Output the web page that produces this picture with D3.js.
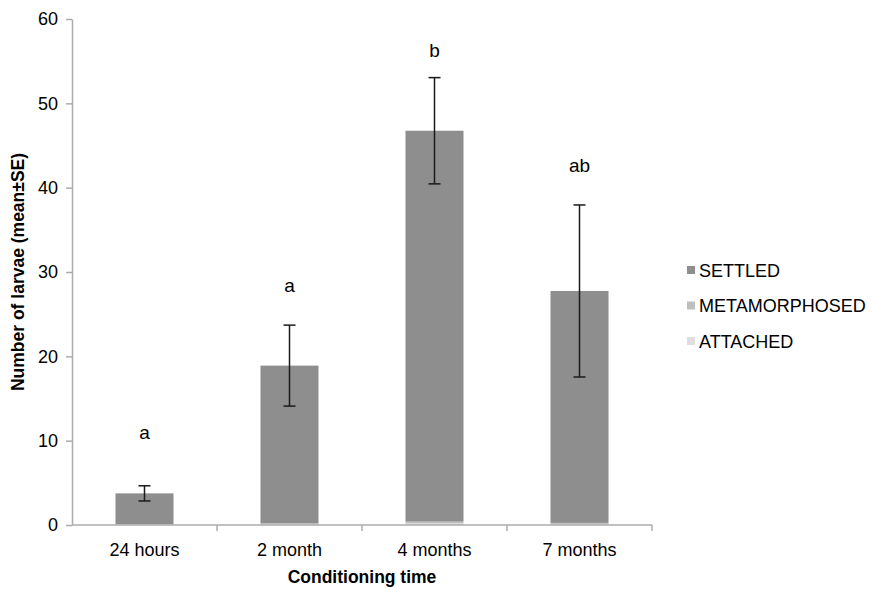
<!DOCTYPE html>
<html>
<head>
<meta charset="utf-8">
<script src="https://cdn.jsdelivr.net/npm/d3@7"></script>
<style>
  body { margin: 0; background: #fff; }
  svg { font-family: "Liberation Sans", Arial, sans-serif; }
</style>
</head>
<body>
<svg id="chart" width="872" height="589"></svg>
<script>
// Conditioning time groups
const categories = ["24 hours", "2 month", "4 months", "7 months"];
// Larvae counts per response type (stacked bottom to top)
const attached = [0.05, 0.1, 0.2, 0.1];
const metamorphosed = [0.05, 0.1, 0.2, 0.15];
const settled = [3.65, 18.7, 46.35, 27.5];
// Standard error on the total count
const se = [0.9, 4.8, 6.3, 10.2];
// Significance letters and the height (in larvae) where each sits
const letters = ["a", "a", "b", "ab"];
const letterY = [10.2, 27.6, 55.5, 41.9];
const yTicks = [0, 10, 20, 30, 40, 50, 60];
const seriesNames = ["SETTLED", "METAMORPHOSED", "ATTACHED"];
const seriesColors = { SETTLED: "#8e8e8e", METAMORPHOSED: "#bfbfbf", ATTACHED: "#dedede" };

const svg = d3.select("#chart");
const margin = { left: 72, right: 220, top: 19, bottom: 64 };
const W = 872, H = 589;
const FS = 18;

const rows = categories.map((c, i) => ({
  cat: c, ATTACHED: attached[i], METAMORPHOSED: metamorphosed[i], SETTLED: settled[i],
  se: se[i], letter: letters[i], ly: letterY[i]
}));

const x = d3.scaleBand().domain(categories)
  .range([margin.left, W - margin.right]).paddingInner(0.6).paddingOuter(0.3);
const xb = d3.scaleBand().domain(categories)
  .range([margin.left, W - margin.right]);
const y = d3.scaleLinear().domain([0, 60]).range([H - margin.bottom, margin.top]);

const stack = d3.stack().keys(["ATTACHED", "METAMORPHOSED", "SETTLED"]);
const layers = stack(rows);

// Bars
svg.append("g").selectAll("g").data(layers).join("g")
  .attr("fill", d => seriesColors[d.key])
  .selectAll("rect").data(d => d).join("rect")
  .attr("x", d => x(d.data.cat))
  .attr("width", x.bandwidth())
  .attr("y", d => y(d[1]))
  .attr("height", d => Math.max(0, y(d[0]) - y(d[1])));

// Axes
const axisColor = "#ababab";
const yAxis = svg.append("g").attr("transform", `translate(${margin.left},0)`)
  .call(d3.axisLeft(y).tickValues(yTicks).tickSize(6).tickPadding(8).tickSizeOuter(0));
yAxis.select(".domain").attr("stroke", axisColor).attr("stroke-width", 1.5);
yAxis.selectAll(".tick line").attr("stroke", axisColor).attr("stroke-width", 1.5);
yAxis.selectAll("text").attr("font-size", FS).attr("fill", "#000")
  .attr("font-family", "Liberation Sans, Arial, sans-serif");

const xAxisG = svg.append("g").attr("transform", `translate(0,${y(0)})`);
xAxisG.append("line").attr("x1", margin.left).attr("x2", W - margin.right)
  .attr("stroke", axisColor).attr("stroke-width", 1.5);
const bounds = categories.map(c => xb(c)).concat([xb(categories[categories.length - 1]) + xb.bandwidth()]);
xAxisG.selectAll("line.tk").data(bounds.slice(1)).join("line").attr("class", "tk")
  .attr("x1", d => d).attr("x2", d => d).attr("y1", 0).attr("y2", 6)
  .attr("stroke", axisColor).attr("stroke-width", 1.5);
xAxisG.selectAll("text").data(categories).join("text")
  .attr("x", d => xb(d) + xb.bandwidth() / 2).attr("y", 31)
  .attr("text-anchor", "middle").attr("font-size", FS).text(d => d);

// Error bars on stack totals
const eb = svg.append("g").attr("stroke", "#1a1a1a").attr("stroke-width", 1.5);
rows.forEach(r => {
  const total = r.ATTACHED + r.METAMORPHOSED + r.SETTLED;
  const cx = x(r.cat) + x.bandwidth() / 2;
  eb.append("line").attr("x1", cx).attr("x2", cx).attr("y1", y(total + r.se)).attr("y2", y(total - r.se));
  eb.append("line").attr("x1", cx - 6).attr("x2", cx + 6).attr("y1", y(total + r.se)).attr("y2", y(total + r.se));
  eb.append("line").attr("x1", cx - 6).attr("x2", cx + 6).attr("y1", y(total - r.se)).attr("y2", y(total - r.se));
});

// Significance letters
svg.append("g").selectAll("text").data(rows).join("text")
  .attr("x", d => x(d.cat) + x.bandwidth() / 2)
  .attr("y", d => y(d.ly))
  .attr("text-anchor", "middle").attr("font-size", FS + 1).text(d => d.letter);

// Axis titles
svg.append("text").attr("x", (margin.left + W - margin.right) / 2).attr("y", 583)
  .attr("text-anchor", "middle").attr("font-size", 17.5).attr("font-weight", "bold")
  .text("Conditioning time");
svg.append("text")
  .attr("transform", `translate(24,${(margin.top + H - margin.bottom) / 2}) rotate(-90)`)
  .attr("text-anchor", "middle").attr("font-size", 17.5).attr("font-weight", "bold")
  .text("Number of larvae (mean±SE)");

// Legend
const lg = svg.append("g").attr("transform", "translate(687,270)");
seriesNames.forEach((n, i) => {
  const g = lg.append("g").attr("transform", `translate(0,${i * 35.5})`);
  g.append("rect").attr("x", 0).attr("y", -4).attr("width", 8).attr("height", 8).attr("fill", seriesColors[n]);
  g.append("text").attr("x", 12).attr("y", 6.5).attr("font-size", FS).text(n);
});
</script>
</body>
</html>
